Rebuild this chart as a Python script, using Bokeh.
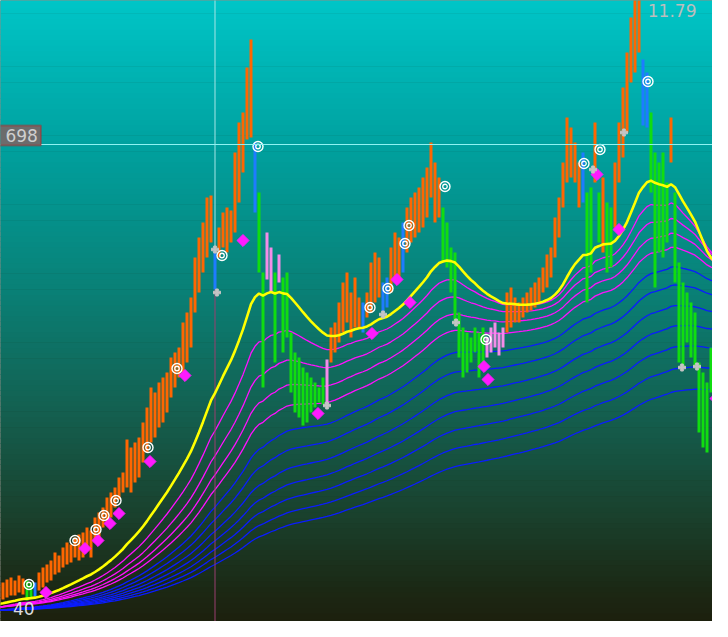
import numpy as np
from bokeh.plotting import figure
from bokeh.models import Range1d, Span, Label, BoxAnnotation, ColumnDataSource
from bokeh.embed import file_html
from bokeh.resources import INLINE

# ---- price bars (price points), one per bar index ----
bar_high = [255, 258, 260, 263, 265, 262, 267, 264, 262, 260,
            260, 270, 275, 278, 282, 290, 287, 295, 300, 298,
            305, 308, 310, 315, 312, 325, 330, 335, 345, 350,
            355, 365, 370, 403, 395, 400, 405, 420, 435, 455,
            450, 460, 465, 470, 485, 490, 495, 520, 530, 545,
            585, 605, 620, 645, 647, 593, 615, 630, 635, 632,
            690, 720, 730, 775, 803, 700, 650, 570, 610, 595,
            570, 588, 565, 570, 510, 490, 485, 475, 470, 465,
            460, 455, 465, 483, 515, 520, 540, 560, 570, 550,
            565, 545, 540, 550, 580, 590, 585, 560, 565, 595,
            610, 605, 620, 635, 645, 650, 655, 665, 675, 700,
            680, 665, 635, 620, 595, 590, 530, 515, 510, 505,
            515, 510, 515, 505, 515, 520, 510, 515, 550, 555,
            545, 540, 545, 550, 555, 560, 565, 575, 588, 595,
            625, 645, 680, 725, 715, 700, 680, 690, 650, 655,
            720, 650, 665, 640, 635, 680, 720, 755, 790, 825,
            845, 850, 783, 770, 730, 690, 680, 690, 660, 725,
            650, 580, 560, 550, 540, 530, 480, 470, 460, 495,
            530, 520]
bar_low = [238, 240, 243, 245, 247, 247, 250, 248, 242, 244,
           246, 252, 255, 260, 262, 268, 270, 275, 278, 280,
           285, 282, 285, 292, 285, 300, 305, 315, 320, 325,
           335, 343, 350, 355, 350, 360, 365, 380, 390, 400,
           405, 415, 420, 430, 445, 455, 465, 470, 480, 495,
           530, 550, 570, 585, 600, 553, 585, 595, 590, 600,
           610, 640, 670, 703, 705, 630, 570, 455, 563, 550,
           480, 560, 490, 505, 450, 430, 425, 417, 420, 430,
           435, 440, 438, 437, 480, 490, 500, 510, 520, 505,
           515, 515, 510, 525, 530, 540, 545, 528, 535, 550,
           560, 565, 570, 590, 600, 605, 610, 615, 625, 645,
           620, 625, 580, 575, 550, 520, 485, 465, 470, 480,
           490, 465, 475, 485, 490, 495, 487, 495, 510, 515,
           520, 520, 525, 530, 532, 535, 540, 550, 555, 565,
           585, 605, 635, 660, 665, 660, 635, 640, 540, 570,
           660, 600, 590, 570, 575, 615, 660, 685, 710, 760,
           770, 790, 717, 715, 650, 555, 590, 585, 600, 680,
           560, 480, 475, 500, 485, 475, 410, 395, 390, 450,
           467, 470]
# bar state runs: o=up (orange), g=down (green), b=turn (blue), p=weak (pink)
kind_runs = [("o", 8), ("g", 2), ("b", 1), ("o", 44), ("b", 1), ("o", 9), ("b", 1),
             ("g", 2), ("p", 2), ("g", 1), ("p", 1), ("g", 11), ("p", 1), ("o", 8),
             ("b", 1), ("o", 4), ("b", 2), ("o", 3), ("b", 1), ("o", 9), ("g", 11),
             ("p", 5), ("o", 19), ("b", 1), ("g", 2), ("o", 1), ("g", 1), ("o", 1),
             ("g", 2), ("o", 7), ("b", 2), ("g", 5), ("o", 1), ("g", 10), ("p", 2)]

# ---- signals (bar index, price) ----
circle_x = [8.5, 20, 25.25, 27.25, 30.25, 38.25, 45.5, 56.75, 65.75, 93.75,
            98.25, 102.5, 103.5, 112.5, 122.75, 147.25, 151.25, 163.25]
circle_y = [258, 302, 313, 327, 342, 395, 474, 587, 696, 535,
            554, 599, 617, 656, 503, 679, 693, 761]
diamond_x = [12.75, 22.5, 25.75, 28.75, 31, 38.75, 47.5, 62, 80.75, 94.25,
             100.5, 103.75, 122.25, 123.25, 150.5, 156, 180.25]
diamond_y = [250, 294, 302, 319, 329, 381, 467, 602, 429, 509,
             563, 540, 476, 463, 668, 613, 444]
star_x = [55, 55.5, 83, 97, 115.25, 149.5, 157.25, 171.75, 175.5, 180.75]
star_y = [593, 550, 437, 528, 520, 673, 710, 475, 476, 465]

# moving-average periods (bars)
yellow_period = 35
magenta_periods = [50, 64, 78, 92]
blue_periods = [112, 132, 156, 182, 212, 248, 292]

crosshair_bar = 55
crosshair_price = 698
price_label = "698"
top_label = "11.79"
bottom_label = "40"

# ---------------------------------------------------------------
kinds = "".join(k * n for k, n in kind_runs)
idx = np.arange(len(bar_high))
hi = np.array(bar_high, float)
lo = np.array(bar_low, float)
mid = (hi + lo) / 2.0


def ema(series, n, seed):
    a = 2.0 / (n + 1.0)
    out = np.empty_like(series)
    out[0] = seed
    for k in range(1, len(series)):
        out[k] = out[k - 1] + a * (series[k] - out[k - 1])
    return out


Y0, Y1 = 221, 842
p = figure(width=712, height=621, x_range=Range1d(1.375, 179.375), y_range=Range1d(Y0, Y1),
           output_backend="svg", toolbar_location=None, min_border=0,
           x_axis_location=None, y_axis_location=None)
p.grid.visible = False
p.outline_line_color = None
p.background_fill_color = "#1c1c0a"
p.border_fill_color = "#1c1c0a"

# background gradient
stops_v = [213, 250, 330, 430, 550, 700, 850]
stops_c = [(28, 30, 12), (28, 40, 20), (26, 66, 46), (20, 96, 80), (10, 128, 118), (0, 162, 160), (0, 200, 202)]
edges = np.linspace(213, 850, 121)
cols = []
for k in range(len(edges) - 1):
    c = (edges[k] + edges[k + 1]) / 2
    r = np.interp(c, stops_v, [s[0] for s in stops_c])
    g = np.interp(c, stops_v, [s[1] for s in stops_c])
    b = np.interp(c, stops_v, [s[2] for s in stops_c])
    cols.append("#%02x%02x%02x" % (int(r), int(g), int(b)))
p.quad(left=-5, right=190, bottom=edges[:-1], top=edges[1:] + 0.6, fill_color=cols, line_color=None)

seed = lo[0]
# moving average ribbons
for n in blue_periods[::-1]:
    p.line(idx, ema(mid, n, seed - 6), line_color="#0a1cff", line_width=1.3)
for n in magenta_periods[::-1]:
    p.line(idx, ema(mid, n, seed - 3), line_color="#ff10ff", line_width=1.3)

# crosshair vertical
p.segment(x0=[crosshair_bar, crosshair_bar], x1=[crosshair_bar, crosshair_bar],
          y0=[150, 593], y1=[593, 900], line_color=["#9a3f70", "#a6e6e6"], line_width=1)

# bars
colmap = {"o": "#ff6600", "g": "#10dd10", "b": "#1e7cff", "p": "#f48ce8"}
src = ColumnDataSource(dict(x=idx, hi=hi, lo=lo, c=[colmap[k] for k in kinds]))
p.segment(x0="x", x1="x", y0="lo", y1="hi", line_color="c", line_width=3, source=src)

# yellow ema
p.line(idx, ema(mid, yellow_period, seed), line_color="#ffff00", line_width=2.6)

# horizontal crosshair
p.add_layout(Span(location=crosshair_price, dimension="width", line_color="#8ff2f2", line_width=1))

# signals
p.scatter(diamond_x, diamond_y, marker="square", angle=np.pi / 4, size=8.5,
          fill_color="#ff1aff", line_color="#ff1aff")
p.scatter(circle_x, circle_y, marker="circle", size=10, fill_color=None,
          line_color="white", line_width=1.4)
p.scatter(circle_x, circle_y, marker="circle", size=4.5, fill_color=None,
          line_color="white", line_width=1.3)
p.scatter(star_x, star_y, marker="plus", size=7, fill_color="#c4c4c4", line_color="#c4c4c4")

# price label box
p.add_layout(BoxAnnotation(left=-3, right=11.5, bottom=crosshair_price - 1, top=crosshair_price + 19,
                           fill_color="#6c6c6c", fill_alpha=1.0, line_color="#e00000", line_width=2))
p.add_layout(Label(x=2.6, y=crosshair_price + 3, text=price_label, text_color="#cfcfcf",
                   text_font="DejaVu Sans", text_font_size="17px"))
p.add_layout(Label(x=163.2, y=826, text=top_label, text_color="#bdbdbd",
                   text_font="DejaVu Sans", text_font_size="17px"))
p.add_layout(Label(x=4.5, y=228, text=bottom_label, text_color="#dcdcdc",
                   text_font="DejaVu Sans", text_font_size="17px"))

open("out.html", "w").write(file_html(p, INLINE))
